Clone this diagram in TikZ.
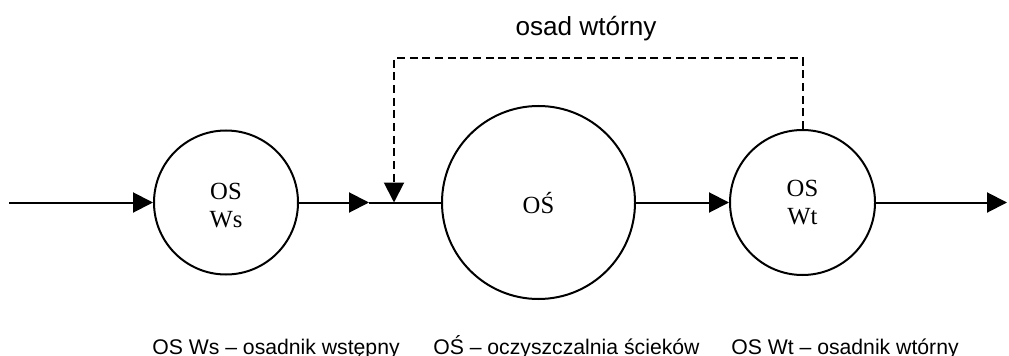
\documentclass[tikz,border=0pt]{standalone}
\usepackage{fontspec}
\setmainfont{Liberation Serif}
\setsansfont{Liberation Sans}
\usetikzlibrary{arrows.meta}

\tikzset{
  unit/.style={x=0.75pt,y=-0.75pt},
  tank/.style={circle,draw,line width=1.5pt,inner sep=0pt},
  tanklabel/.style={font=\fontsize{18.5}{21}\selectfont,align=center,anchor=base,inner sep=0pt},
  flow/.style={line width=1.5pt},
  flowarr/.style={flow,-{Triangle[length=15pt,width=15pt]}},
  recycle/.style={flow,dashed,dash pattern=on 6pt off 3.5pt,
                  -{Triangle[length=15pt,width=15pt]}},
  legend/.style={anchor=base west,inner sep=0pt,font=\sffamily\fontsize{15.9}{19}\selectfont},
  title/.style={anchor=base,inner sep=0pt,font=\sffamily\fontsize{19.6}{23}\selectfont}
}

\begin{document}
\begin{tikzpicture}[unit]
\useasboundingbox (0,0) rectangle (1009,356);

% settling tanks and treatment plant
\node[tank,minimum size=108pt]    (ws) at (226,202.5) {};
\node[tank,minimum size=144.75pt] (os) at (538.5,202.5) {};
\node[tank,minimum size=108.75pt] (wt) at (802.5,202.5) {};
% labels, placed on the baseline of their last line
\node[tanklabel] (wsl) at (226,227) {OS\\Ws};
\node[tanklabel] (osl) at (538.5,213) {OŚ};
\node[tanklabel] (wtl) at (802.5,224) {OS\\Wt};

% free ends of the main line
\coordinate (in)  at (9,202.5);
\coordinate (a1)  at (369,202.5);
\coordinate (j)   at (394,202.5);
\coordinate (out) at (1007,202.5);
\coordinate (c1)  at (802.5,58);
\coordinate (c2)  at (394,58);

% main flow
\draw[flowarr] (in) -- (ws.west);
\draw[flowarr] (ws.east) -- (a1);
\draw[flow] (a1) -- (os.west);
\draw[flowarr] (os.east) -- (wt.west);
\draw[flowarr] (wt.east) -- (out);

% sludge recirculation
\draw[recycle] (wt.north) -- (c1) -- (c2) -- (j);
\node[title] (lbl) at (586,36) {osad wtórny};

% legend
\node[legend] (l1) at (152,354) {OS Ws – osadnik wstępny};
\node[legend] (l2) at (433,354) {OŚ – oczyszczalnia ścieków};
\node[legend] (l3) at (731,354) {OS Wt – osadnik wtórny};
\end{tikzpicture}
\end{document}
